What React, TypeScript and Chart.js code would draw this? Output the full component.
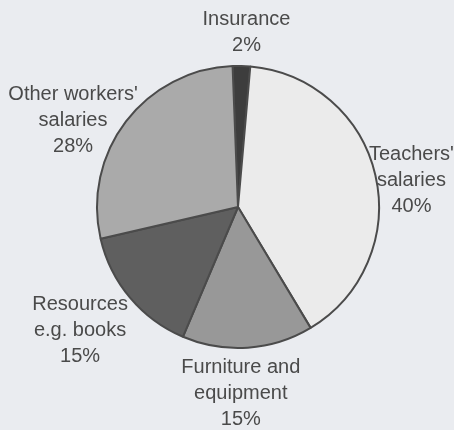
import React, { useEffect, useRef } from "react";
import { Chart, registerables } from "chart.js";

Chart.register(...registerables);

const categories = [
  ["Insurance"],
  ["Teachers'", "salaries"],
  ["Furniture and", "equipment"],
  ["Resources", "e.g. books"],
  ["Other workers'", "salaries"],
];
const values = [2, 40, 15, 15, 28];
const sliceColors = ["#3d3d3d", "#ebebeb", "#989898", "#5f5f5f", "#aaaaaa"];
// label anchor offsets relative to pie centre, in units of radius
const labelOffsets = [
  [0.06, -1.29],
  [1.23, -0.33],
  [0.02, 1.18],
  [-1.12, 0.73],
  [-1.17, -0.76],
];

const labelPlugin = {
  id: "sliceLabels",
  afterDraw(chart: any) {
    const ctx = chart.ctx;
    const meta = chart.getDatasetMeta(0);
    const arc0 = meta.data[0];
    if (!arc0) return;
    const cx = arc0.x;
    const cy = arc0.y;
    const r = arc0.outerRadius;
    ctx.save();
    ctx.fillStyle = "#4a4a4a";
    ctx.font = "20px 'Liberation Sans', Arial, sans-serif";
    ctx.textAlign = "center";
    ctx.textBaseline = "alphabetic";
    categories.forEach((lines, i) => {
      const [ox, oy] = labelOffsets[i];
      const x = cx + ox * r;
      let y = cy + oy * r;
      const all = [...lines, values[i] + "%"];
      all.forEach((t) => {
        ctx.fillText(t, x, y);
        y += 26;
      });
    });
    ctx.restore();
  },
};

export default function App() {
  const ref = useRef<HTMLCanvasElement>(null);
  useEffect(() => {
    if (!ref.current) return;
    const chart = new Chart(ref.current, {
      type: "pie",
      data: {
        labels: categories.map((l) => l.join(" ")),
        datasets: [
          {
            data: values,
            backgroundColor: sliceColors,
            borderColor: "#4b4b4b",
            borderWidth: 2,
          },
        ],
      },
      options: {
        animation: false,
        responsive: false,
        rotation: -2.2,
        layout: { padding: { left: 96, right: 74, top: 65, bottom: 81 } },
        plugins: {
          legend: { display: false },
          tooltip: { enabled: false },
        },
      },
      plugins: [labelPlugin],
    });
    return () => chart.destroy();
  }, []);
  return (
    <div
      style={{
        position: "absolute",
        left: 0,
        top: 0,
        width: 454,
        height: 430,
        background: "#eaecf0",
      }}
    >
      <canvas ref={ref} width={454} height={430} style={{ display: "block" }} />
    </div>
  );
}
